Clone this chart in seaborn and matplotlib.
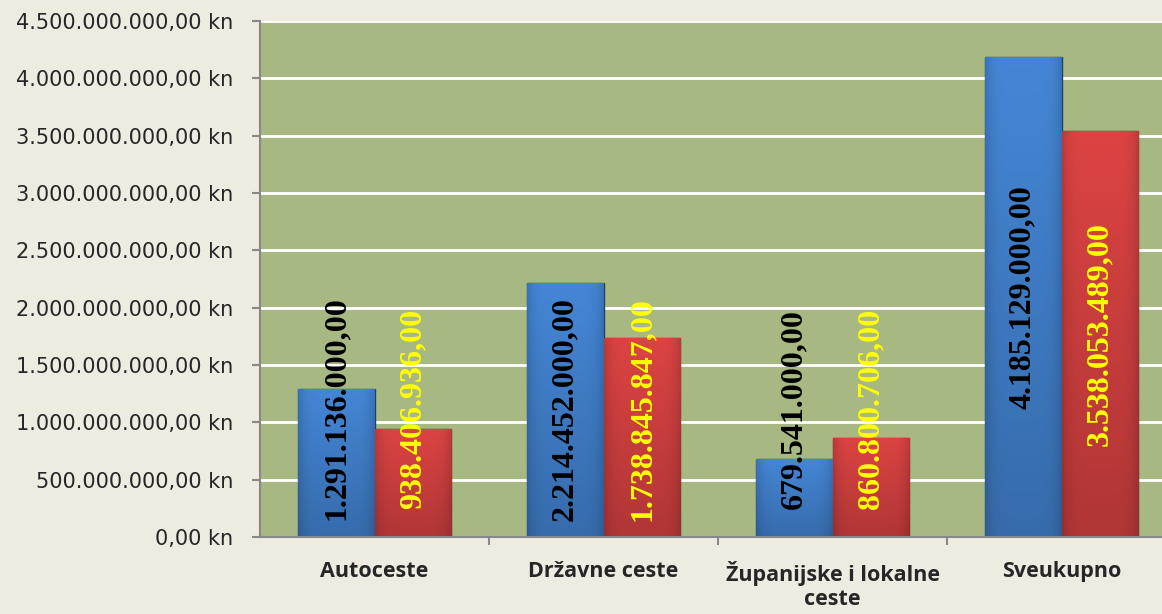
import numpy as np
import pandas as pd
import matplotlib
matplotlib.use('Agg')
import matplotlib.pyplot as plt
import matplotlib.ticker as mticker
import matplotlib.colors as mcolors
import seaborn as sns

kategorije = ['Autoceste', 'Državne ceste', 'Županijske i lokalne\nceste', 'Sveukupno']
plan = [1291136000.00, 2214452000.00, 679541000.00, 4185129000.00]
ostvareno = [938406936.00, 1738845847.00, 860800706.00, 3538053489.00]
y_ticks = [0, 500000000, 1000000000, 1500000000, 2000000000, 2500000000,
           3000000000, 3500000000, 4000000000, 4500000000]

df = pd.DataFrame({
    'kategorija': kategorije * 2,
    'iznos': plan + ostvareno,
    'serija': ['plan'] * 4 + ['ostvareno'] * 4,
})


def hr_format(v):
    s = f"{v:,.2f}"
    return s.replace(',', 'X').replace('.', ',').replace('X', '.')


sns.set_style('white')
plt.rcParams['font.family'] = ['DejaVu Sans']
bg = '#EEEBE0'
fig = plt.figure(figsize=(11.62, 6.14), dpi=100, facecolor=bg)
ax = fig.add_axes([260 / 1162, 77 / 614, 916 / 1162, 516 / 614])
ax.set_facecolor('#A8B882')

base_cols = ['#4180CC', '#D24040']
sns.barplot(data=df, x='kategorija', y='iznos', hue='serija',
            palette=base_cols, saturation=1, width=0.672, gap=0,
            legend=False, ax=ax, zorder=3)

edge_cols = ['#1F3F6A', '#5A1818']
text_cols = ['black', '#FFFF00']
min_center = 1.12e9

# shading for a slightly 3D look (darker bottom and sides)
ny, nx = 200, 60
vy = np.linspace(0.84, 1.05, ny)[:, None]
hx = 1 - 0.15 * np.abs(np.linspace(-1, 1, nx))[None, :] ** 6
shade = (vy * hx)[:, :, None]

for cont, bc, ec, tc in zip(ax.containers, base_cols, edge_cols, text_cols):
    rgb = np.array(mcolors.to_rgb(bc))[None, None, :]
    img = np.clip(rgb * shade, 0, 1)
    for bar in cont:
        bar.set_edgecolor(ec)
        bar.set_linewidth(1)
        x0 = bar.get_x()
        w = bar.get_width()
        h = bar.get_height()
        im = ax.imshow(img, extent=(x0, x0 + w, 0, h), origin='lower',
                       aspect='auto', zorder=3.2, interpolation='bilinear')
        im.set_clip_path(bar)
        ax.text(x0 + w / 2, max(h / 2, min_center),
                hr_format(h), rotation=90, ha='center', va='center',
                color=tc, fontsize=23, fontweight='bold',
                family='Liberation Serif', zorder=5)

ax.set_ylim(0, 4.5e9)
ax.set_xlim(-0.5, 3.5)
ax.set_yticks(y_ticks)
ax.yaxis.set_major_formatter(mticker.FuncFormatter(lambda v, p: hr_format(v) + ' kn'))
ax.grid(axis='y', color='white', linewidth=2, zorder=0)
ax.set_axisbelow(True)
ax.set_xlabel('')
ax.set_ylabel('')

for side in ['top', 'right']:
    ax.spines[side].set_visible(False)
for side in ['left', 'bottom']:
    ax.spines[side].set_color('#888888')
    ax.spines[side].set_linewidth(1.5)
    ax.spines[side].set_zorder(6)

ax.tick_params(axis='y', which='major', direction='out', length=6, width=1.5,
               color='#888888', labelsize=15, pad=13, left=True,
               labelfontfamily='DejaVu Sans')
ax.set_xticks([0.5, 1.5, 2.5], minor=True)
ax.tick_params(axis='x', which='major', length=0, pad=17)
ax.tick_params(axis='x', which='minor', direction='out', length=6, width=1.5,
               color='#888888', bottom=True)
for lbl in ax.get_xticklabels():
    lbl.set_family('Open Sans')
    lbl.set_fontweight('bold')
    lbl.set_fontsize(15.5)
    lbl.set_linespacing(1.2)

fig.savefig('out.png', dpi=100, facecolor=bg)
